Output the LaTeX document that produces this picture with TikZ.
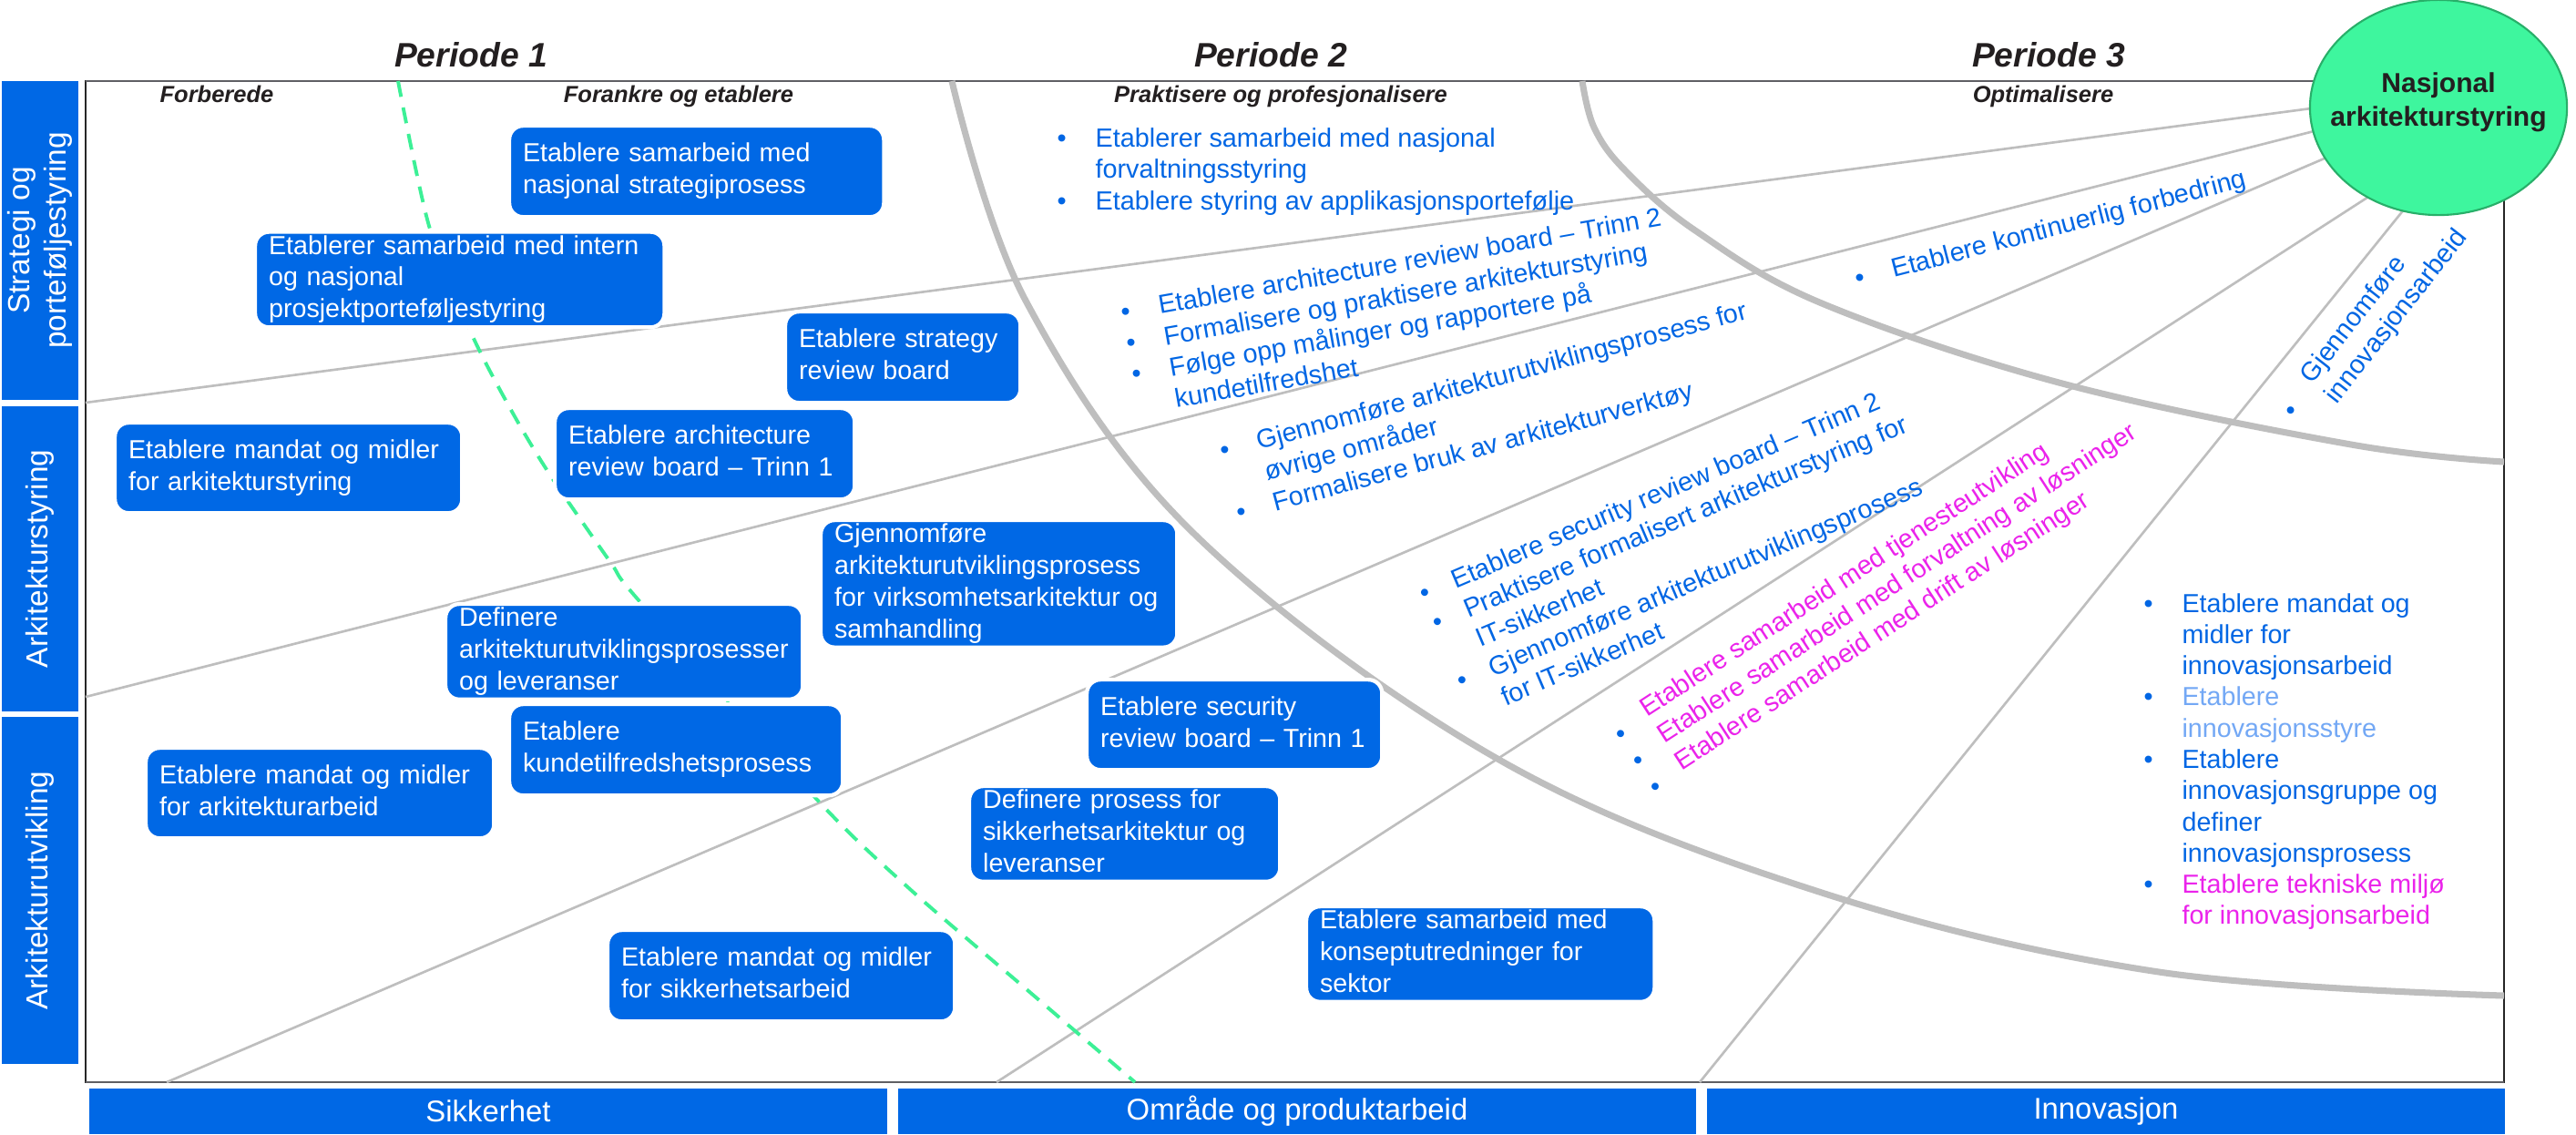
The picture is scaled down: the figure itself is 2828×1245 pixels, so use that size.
\documentclass[tikz,border=0pt]{standalone}
\usepackage{fontspec}
\setmainfont{Liberation Sans}
\usetikzlibrary{shapes.geometric}
\hyphenpenalty=10000
\exhyphenpenalty=10000

\definecolor{boxblue}{RGB}{0,104,229}
\definecolor{txtblue}{RGB}{0,102,228}
\definecolor{lightblue}{RGB}{115,168,245}
\definecolor{pink}{RGB}{235,35,235}
\definecolor{fangray}{RGB}{190,190,190}
\definecolor{mint}{RGB}{62,246,158}
\definecolor{mintedge}{RGB}{40,175,105}
\definecolor{dashgreen}{RGB}{60,240,150}
\definecolor{titlegray}{RGB}{35,31,32}
\definecolor{framegray}{RGB}{95,95,100}

\newcommand{\boxtxt}{\fontsize{8.15pt}{9.92pt}\selectfont}
\newcommand{\listtxt}{\fontsize{8.2pt}{9.92pt}\selectfont}
\newcommand{\righttxt}{\fontsize{8.15pt}{9.75pt}\selectfont}
\newcommand{\titletxt}{\fontsize{10.6pt}{12.7pt}\selectfont\bfseries\itshape}
\newcommand{\subtxt}{\fontsize{7.25pt}{8.7pt}\selectfont\bfseries\itshape}
\newcommand{\bandtxt}{\fontsize{9.5pt}{11.3pt}\selectfont}
\newcommand{\foottxt}{\fontsize{9.35pt}{11.2pt}\selectfont}
\newcommand{\hubtxt}{\fontsize{8.55pt}{10.5pt}\selectfont\bfseries}
% bullet in a fixed-width slot
\newcommand{\bl}[1]{\makebox[#1][l]{\textbullet}}
% bullet set a little lower than the text line
\newcommand{\lbl}[1]{\makebox[#1][l]{\raisebox{-0.3em}{\textbullet}}}

\begin{document}
\begin{tikzpicture}[x=0.01cm, y=-0.01cm,
  taskbox/.style={fill=boxblue, draw=white, line width=1.2pt, rounded corners=4.3pt,
    text=white, font=\boxtxt, align=left, anchor=north west, inner xsep=0pt, inner ysep=0pt,
    execute at begin node=\strut, execute at end node=\strut},
  band/.style={fill=boxblue, text=white, inner sep=0pt, align=center},
  rlist/.style={inner sep=0pt, text=txtblue, font=\listtxt, anchor=base west},
  title/.style={text=titlegray, font=\titletxt, anchor=base, inner sep=0pt},
  phase/.style={text=titlegray, font=\subtxt, anchor=base, inner sep=0pt},
  fan/.style={draw=fangray, line width=0.75pt},
  arc/.style={draw=fangray, line width=2pt},
  dashline/.style={draw=dashgreen, line width=1.1pt, dash pattern=on 5pt off 3.4pt},
  hub/.style={ellipse, fill=mint, draw=mintedge, line width=0.6pt, minimum width=2.82cm,
    minimum height=2.36cm, inner sep=0pt, outer sep=0pt},
  hubtext/.style={inner sep=0pt, align=center, font=\hubtxt, text=titlegray}
]
\fill[white] (0,0) rectangle (2828,1245);
\useasboundingbox (0,0) rectangle (2828,1245);

% ---------- frame ----------
\draw[black!85, line width=0.5pt] (94,89) rectangle (2749,1188);
\draw[framegray, line width=0.8pt] (94,89) -- (2749,89);
\draw[framegray, line width=0.8pt] (94,1188) -- (2749,1188);

% ---------- fan lines towards the hub ----------
\coordinate (f1a) at (94,442);   \coordinate (f1b) at (2560,116);
\coordinate (f2a) at (94,765);   \coordinate (f2b) at (2560,139);
\coordinate (f3a) at (183,1188); \coordinate (f3b) at (2575,164);
\coordinate (f4a) at (1094,1188);\coordinate (f4b) at (2625,200);
\coordinate (f5a) at (1866,1188);\coordinate (f5b) at (2660,204);
\draw[fan] (f1a) -- (f1b);
\draw[fan] (f2a) -- (f2b);
\draw[fan] (f3a) -- (f3b);
\draw[fan] (f4a) -- (f4b);
\draw[fan] (f5a) -- (f5b);

% ---------- period boundaries ----------
\draw[arc] plot[smooth, tension=0.6] coordinates {(1045,89) (1126,330) (1312,587) (1644,833) (2000,980) (2370,1067) (2749,1093)};
\draw[arc] plot[smooth, tension=0.6] coordinates {(1737,89) (1750,140) (1784,187) (1861,253) (2000,333) (2264,421) (2581,488) (2749,507)};
\draw[dashline] plot[smooth] coordinates {(437,89) (471,248) (517,365) (561,450) (603,520) (670,617) (702,660) (899,880) (1000,977) (1128,1087) (1246,1188)};

% ---------- titles ----------
\node[title] (p1) at (517,73.5) {Periode 1};
\node[title] (p2) at (1395,73.5) {Periode 2};
\node[title] (p3) at (2249,73.5) {Periode 3};
\node[phase] (s1) at (238,112) {Forberede};
\node[phase] (s2) at (745,112) {Forankre og etablere};
\node[phase] (s3) at (1406,112) {Praktisere og profesjonalisere};
\node[phase] (s4) at (2243,112) {Optimalisere};

% ---------- side and bottom bands ----------
\node[band, rotate=90, minimum width=3.50cm, minimum height=0.84cm, font=\bandtxt] (lb1) at (44,264) {Strategi og\\porteføljestyring};
\node[band, rotate=90, minimum width=3.35cm, minimum height=0.84cm, font=\bandtxt] (lb2) at (44,613.5) {Arkitekturstyring};
\node[band, rotate=90, minimum width=3.81cm, minimum height=0.84cm, font=\bandtxt] (lb3) at (44,977.5) {Arkitekturutvikling};
\node[band, minimum width=8.76cm, minimum height=0.50cm, font=\foottxt] (bb1) at (536,1220) {Sikkerhet};
\node[band, minimum width=8.76cm, minimum height=0.50cm, font=\foottxt] (bb2) at (1424,1220) {Område og produktarbeid};
\node[band, minimum width=8.76cm, minimum height=0.50cm, font=\foottxt] (bb3) at (2312,1220) {Innovasjon};

% ---------- activity boxes ----------
\node[taskbox, minimum width=4.11cm, minimum height=1.00cm, text width=3.81cm] (b1) at (557,136) {Etablere samarbeid med\\nasjonal strategiprosess};
\node[taskbox, minimum width=4.49cm, minimum height=1.00cm, text width=4.19cm] (b2) at (278,252.5) {Etablerer samarbeid med intern\\og nasjonal\\prosjektporteføljestyring};
\node[taskbox, minimum width=2.58cm, minimum height=1.00cm, text width=2.28cm] (b3) at (860,340) {Etablere strategy\\review board};
\node[taskbox, minimum width=3.81cm, minimum height=0.99cm, text width=3.51cm] (b4) at (124,462) {Etablere mandat og midler\\for arkitekturstyring};
\node[taskbox, minimum width=3.29cm, minimum height=1.00cm, text width=2.99cm] (b5) at (607,446) {Etablere architecture\\review board – Trinn 1};
\node[taskbox, minimum width=3.91cm, minimum height=1.39cm, text width=3.61cm] (b6) at (899,569) {Gjennomføre\\arkitekturutviklingsprosess\\for virksomhetsarkitektur og\\samhandling};
\node[taskbox, minimum width=3.92cm, minimum height=0.99cm, text width=3.62cm] (b7) at (487,661) {Definere\\arkitekturutviklingsprosesser\\og leveranser};
\node[taskbox, minimum width=3.66cm, minimum height=1.00cm, text width=3.36cm] (b8) at (557,771) {Etablere\\kundetilfredshetsprosess};
\node[taskbox, minimum width=3.82cm, minimum height=0.99cm, text width=3.52cm] (b9) at (158,819) {Etablere mandat og midler\\for arkitekturarbeid};
\node[taskbox, minimum width=3.24cm, minimum height=0.99cm, text width=2.94cm] (b10) at (1191,744) {Etablere security\\review board – Trinn 1};
\node[taskbox, minimum width=3.41cm, minimum height=1.00cm, text width=3.11cm] (b11) at (1062,861) {Definere prosess for\\sikkerhetsarkitektur og\\leveranser};
\node[taskbox, minimum width=3.81cm, minimum height=1.00cm, text width=3.51cm] (b12) at (665,1019) {Etablere mandat og midler\\for sikkerhetsarbeid};
\node[taskbox, minimum width=3.82cm, minimum height=1.00cm, text width=3.52cm] (b13) at (1432,993) {Etablere samarbeid med\\konseptutredninger for\\sektor};

% ---------- bullet lists ----------
\node[rlist] (l0) at (1160,161) {\begin{tabular}[t]{@{}l@{}l@{}}
\bl{11.9pt} & Etablerer samarbeid med nasjonal\\
 & forvaltningsstyring\\
\bl{11.9pt} & Etablere styring av applikasjonsportefølje
\end{tabular}};

\node[rlist, rotate=10] (l1) at (1231.6,352.3) {\begin{tabular}[t]{@{}l@{}l@{}}
\bl{11.9pt} & Etablere architecture review board – Trinn 2\\
\bl{11.9pt} & Formalisere og praktisere arkitekturstyring\\
\bl{11.9pt} & Følge opp målinger og rapportere på\\
 & kundetilfredshet
\end{tabular}};

\node[rlist, rotate=15] (l2) at (1341.4,504.9) {\begin{tabular}[t]{@{}l@{}l@{}}
\bl{11.9pt} & Gjennomføre arkitekturutviklingsprosess for\\
 & øvrige områder\\
\bl{11.9pt} & Formalisere bruk av arkitekturverktøy
\end{tabular}};

\node[rlist, rotate=23] (l3) at (1563,661.8) {\begin{tabular}[t]{@{}l@{}l@{}}
\bl{10.8pt} & Etablere security review board – Trinn 2\\
\bl{10.8pt} & Praktisere formalisert arkitekturstyring for\\
 & IT-sikkerhet\\
\bl{10.8pt} & Gjennomføre arkitekturutviklingsprosess\\
 & for IT-sikkerhet
\end{tabular}};

\node[rlist, rotate=33, text=pink] (l4) at (1775.3,809.2) {\begin{tabular}[t]{@{}l@{}l@{}}
\textcolor{txtblue}{\lbl{11.1pt}} & Etablere samarbeid med tjenesteutvikling\\
\textcolor{txtblue}{\lbl{11.1pt}} & Etablere samarbeid med forvaltning av løsninger\\
\textcolor{txtblue}{\lbl{11.1pt}} & Etablere samarbeid med drift av løsninger
\end{tabular}};

\node[rlist, rotate=14.5] (l5) at (2038.3,315.5) {\begin{tabular}[t]{@{}l@{}l@{}}
\bl{11.9pt} & Etablere kontinuerlig forbedring
\end{tabular}};

\node[rlist, rotate=52] (l6) at (2512.1,456.1) {\begin{tabular}[t]{@{}l@{}l@{}}
\lbl{11.9pt} & Gjennomføre\\
 & innovasjonsarbeid
\end{tabular}};

\node[rlist, font=\righttxt] (l7) at (2353,672) {\begin{tabular}[t]{@{}l@{}l@{}}
\bl{11.9pt} & Etablere mandat og\\
 & midler for\\
 & innovasjonsarbeid\\
\bl{11.9pt} & \textcolor{lightblue}{Etablere}\\
 & \textcolor{lightblue}{innovasjonsstyre}\\
\bl{11.9pt} & Etablere\\
 & innovasjonsgruppe og\\
 & definer\\
 & innovasjonsprosess\\
\bl{11.9pt} & \textcolor{pink}{Etablere tekniske miljø}\\
 & \textcolor{pink}{for innovasjonsarbeid}
\end{tabular}};

% ---------- hub ----------
\node[hub] (hub) at (2677,118) {};
\node[hubtext] (hubt) at ([yshift=1.5pt]hub.center) {Nasjonal\\arkitekturstyring};
\end{tikzpicture}
\end{document}
